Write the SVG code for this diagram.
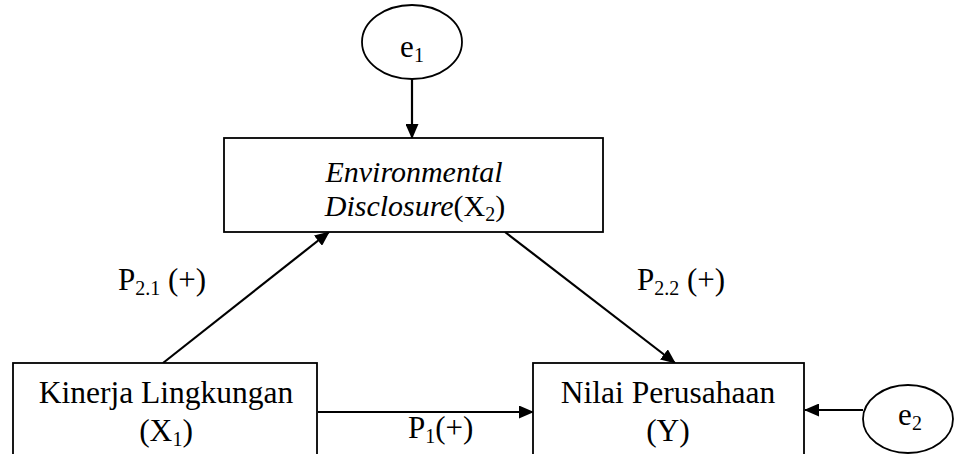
<svg xmlns="http://www.w3.org/2000/svg" width="956" height="454" viewBox="0 0 956 454">
<defs>
<marker id="ah" markerWidth="15" markerHeight="13" refX="14" refY="6.5" orient="auto" markerUnits="userSpaceOnUse" viewBox="0 0 15 13">
<path d="M0,0 L15,6.5 L0,13 z" fill="#000"/>
</marker>
</defs>
<style>
.box{fill:#fff;stroke:#000;stroke-width:1.8}
text{font-family:'Liberation Serif','Times New Roman',serif;font-size:31px;fill:#000}
.n{font-size:31.5px}
.m{font-size:30px}
.s{font-size:20px}
.c{stroke:#000;stroke-width:2.2;fill:none;marker-end:url(#ah)}
</style>
<rect width="956" height="454" fill="#fff"/>
<g id="connectors">
<line class="c" x1="412" y1="79" x2="412" y2="138"/>
<line class="c" x1="163" y1="363" x2="329" y2="232"/>
<line class="c" x1="505" y1="232" x2="675" y2="363"/>
<line class="c" x1="318" y1="412" x2="533" y2="412"/>
<line class="c" x1="863" y1="410" x2="805" y2="410"/>
</g>
<g id="e1">
<ellipse class="box" cx="412" cy="42" rx="50" ry="37"/>
<text x="412" y="57" text-anchor="middle">e<tspan class="s" dy="5">1</tspan></text>
</g>
<g id="x2">
<rect class="box" x="224" y="138" width="379" height="94"/>
<text class="m" x="414" y="182" text-anchor="middle" font-style="italic">Environmental</text>
<text class="m" x="415" y="216" text-anchor="middle"><tspan font-style="italic">Disclosure</tspan>(X<tspan class="s" dy="5">2</tspan><tspan dy="-5">)</tspan></text>
</g>
<g id="x1">
<rect class="box" x="13" y="363" width="304" height="110"/>
<text class="n" x="166" y="403" text-anchor="middle">Kinerja Lingkungan</text>
<text class="n" x="166" y="441" text-anchor="middle">(X<tspan class="s" dy="5">1</tspan><tspan dy="-5">)</tspan></text>
</g>
<g id="y">
<rect class="box" x="533" y="363" width="271" height="110"/>
<text class="n" x="668" y="403" text-anchor="middle">Nilai Perusahaan</text>
<text class="n" x="668" y="441" text-anchor="middle">(Y)</text>
</g>
<g id="e2">
<ellipse class="box" cx="908" cy="419" rx="45" ry="34"/>
<text x="910" y="425" text-anchor="middle">e<tspan class="s" dy="5">2</tspan></text>
</g>
<g id="labels">
<text x="118" y="290">P<tspan class="s" dy="5">2.1</tspan><tspan dy="-5"> (+)</tspan></text>
<text x="637" y="290">P<tspan class="s" dy="5">2.2</tspan><tspan dy="-5"> (+)</tspan></text>
<text x="408" y="438">P<tspan class="s" dy="5">1</tspan><tspan dy="-5">(+)</tspan></text>
</g>
</svg>
